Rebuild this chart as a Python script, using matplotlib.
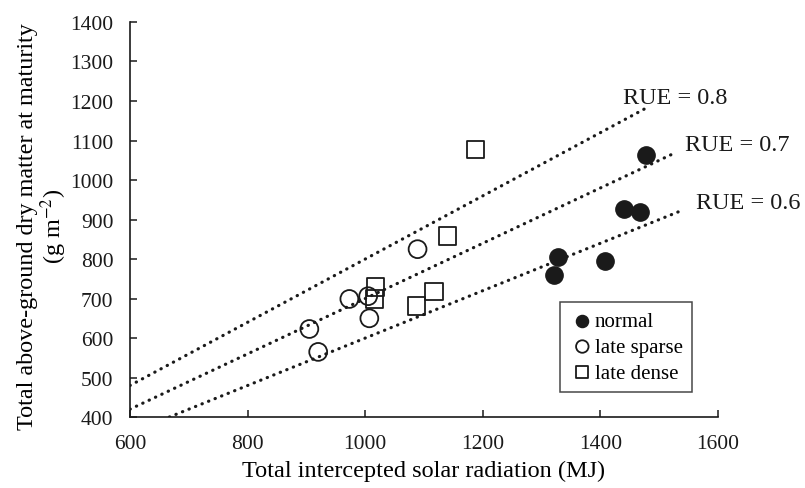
import matplotlib.pyplot as plt
import numpy as np

plt.rcParams['font.family'] = ['Liberation Serif', 'DejaVu Serif']
plt.rcParams['mathtext.fontset'] = 'stix'

# data
normal_x = [1477, 1440, 1467, 1327, 1321, 1407]
normal_y = [1063, 927, 919, 805, 760, 795]
sparse_x = [905, 920, 973, 1005, 1007, 1089]
sparse_y = [623, 565, 699, 706, 650, 825]
dense_x = [1017, 1016, 1188, 1140, 1117, 1087]
dense_y = [729, 699, 1078, 858, 717, 681]

rue_values = [0.8, 0.7, 0.6]
rue_x_start = [600, 600, 667]
rue_x_end = [1475, 1525, 1535]
rue_labels = ['RUE = 0.8', 'RUE = 0.7', 'RUE = 0.6']
rue_label_pos = [(1438, 1210), (1543, 1091), (1562, 944)]

fig = plt.figure(figsize=(8.05, 4.89), dpi=100)
ax = fig.add_axes([0.1615, 0.145, 0.7305, 0.808])

# RUE lines through the origin
for rue, x0, x1 in zip(rue_values, rue_x_start, rue_x_end):
    xs = np.array([x0, x1])
    ax.plot(xs, rue * xs, color='#1a1a1a', lw=2.3, linestyle=(0, (0.1, 2.1)),
            dash_capstyle='round', zorder=1)
for lab, (lx, ly) in zip(rue_labels, rue_label_pos):
    ax.text(lx, ly, lab, fontsize=17.5, va='center', ha='left', color='#1a1a1a')

ax.scatter(normal_x, normal_y, s=155, marker='o', facecolor='#1a1a1a',
           edgecolor='#1a1a1a', label='normal', zorder=3)
ax.scatter(sparse_x, sparse_y, s=165, marker='o', facecolor='none',
           edgecolor='#1a1a1a', linewidth=1.3, label='late sparse', zorder=3)
ax.scatter(dense_x, dense_y, s=155, marker='s', facecolor='none',
           edgecolor='#1a1a1a', linewidth=1.3, label='late dense', zorder=3)

ax.set_xlim(600, 1600)
ax.set_ylim(400, 1400)
ax.set_xticks(range(600, 1601, 200))
ax.set_yticks(range(400, 1401, 100))
ax.tick_params(direction='in', labelsize=15.5, length=5, width=1.1, colors='#1a1a1a')
ax.tick_params(axis='x', pad=12)
ax.tick_params(axis='y', pad=12)
for s in ['top', 'right']:
    ax.spines[s].set_visible(False)
for s in ['left', 'bottom']:
    ax.spines[s].set_linewidth(1.2)
    ax.spines[s].set_color('#1a1a1a')

ax.set_xlabel('Total intercepted solar radiation (MJ)', fontsize=17.5, labelpad=5)
ax.set_ylabel('Total above-ground dry matter at maturity\n(g m$^{-2}$)', fontsize=17.4,
              linespacing=1.0)
ax.yaxis.set_label_coords(-0.1045, 0.486)

leg = ax.legend(loc='lower right', bbox_to_anchor=(0.956, 0.063), fontsize=15,
                frameon=True, fancybox=False, edgecolor='#1a1a1a',
                handletextpad=0.0, handlelength=1.2, markerscale=0.7,
                borderpad=0.45, labelspacing=0.3, borderaxespad=0)
leg.get_frame().set_linewidth(1.1)

plt.savefig('out.png', dpi=100)
